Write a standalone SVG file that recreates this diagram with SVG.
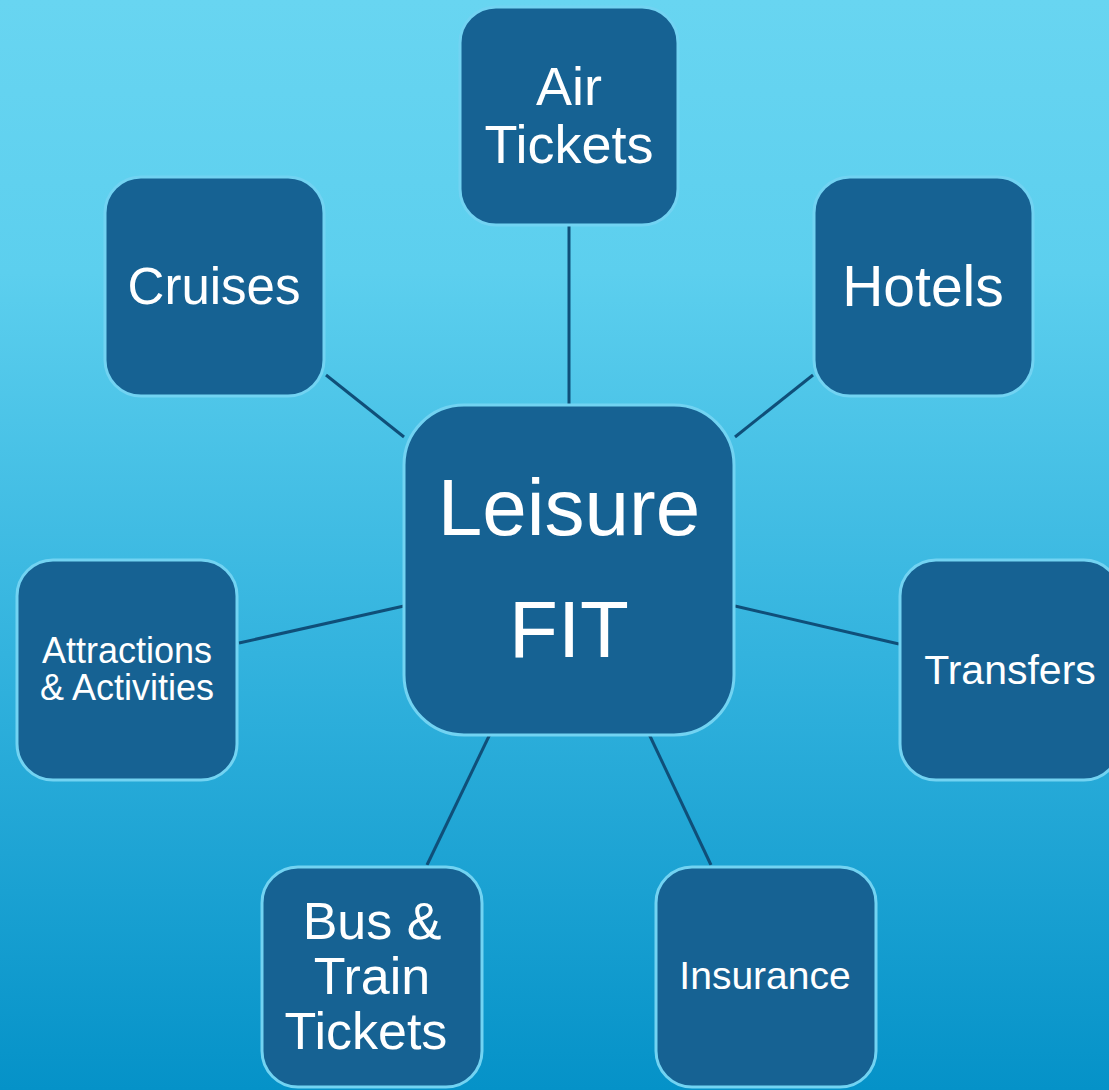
<svg xmlns="http://www.w3.org/2000/svg" width="1109" height="1090" viewBox="0 0 1109 1090">
<defs>
<linearGradient id="bg" x1="0" y1="0" x2="0" y2="1">
<stop offset="0" stop-color="#68d5f1"/>
<stop offset="0.25" stop-color="#5ccfee"/>
<stop offset="0.6" stop-color="#33b3de"/>
<stop offset="1" stop-color="#0592c8"/>
</linearGradient>
<style>
.node{fill:#166293;stroke:#72d3f2;stroke-width:3}
.lbl{fill:#ffffff;font-family:"Liberation Sans",Arial,sans-serif;text-anchor:middle}
.conn line{stroke:#0f4f79;stroke-width:3}
</style>
</defs>
<rect x="0" y="0" width="1109" height="1090" fill="url(#bg)"/>
<g class="conn" id="connectors">
<line x1="569" y1="226" x2="569" y2="405"/>
<line x1="326" y1="375" x2="404" y2="437"/>
<line x1="813" y1="375" x2="735" y2="437"/>
<line x1="239" y1="643" x2="404" y2="606"/>
<line x1="735" y1="606" x2="899" y2="644"/>
<line x1="490" y1="734" x2="427" y2="865"/>
<line x1="649" y1="734" x2="711" y2="865"/>
</g>
<g id="node-center">
<rect class="node" x="404" y="405" width="330" height="330" rx="60"/>
<text class="lbl" x="569" y="535" font-size="80">Leisure</text>
<text class="lbl" x="569" y="657" font-size="80">FIT</text>
</g>
<g id="node-air">
<rect class="node" x="460" y="7" width="218" height="218" rx="36"/>
<text class="lbl" x="569" y="105" font-size="54">Air</text>
<text class="lbl" x="569" y="163" font-size="54">Tickets</text>
</g>
<g id="node-cruises">
<rect class="node" x="105" y="177" width="219" height="219" rx="36"/>
<text class="lbl" x="214" y="304" font-size="51">Cruises</text>
</g>
<g id="node-hotels">
<rect class="node" x="814" y="177" width="219" height="219" rx="36"/>
<text class="lbl" x="923" y="306" font-size="57">Hotels</text>
</g>
<g id="node-attractions">
<rect class="node" x="17" y="560" width="220" height="220" rx="36"/>
<text class="lbl" x="127" y="663" font-size="36">Attractions</text>
<text class="lbl" x="127" y="700" font-size="36">&amp; Activities</text>
</g>
<g id="node-transfers">
<rect class="node" x="900" y="560" width="220" height="220" rx="36"/>
<text class="lbl" x="1010" y="684" font-size="41">Transfers</text>
</g>
<g id="node-bus">
<rect class="node" x="262" y="867" width="220" height="220" rx="36"/>
<text class="lbl" x="372" y="939" font-size="52">Bus &amp;</text>
<text class="lbl" x="372" y="994" font-size="52">Train</text>
<text class="lbl" x="366" y="1049" font-size="52">Tickets</text>
</g>
<g id="node-insurance">
<rect class="node" x="656" y="867" width="220" height="220" rx="36"/>
<text class="lbl" x="765" y="989" font-size="39">Insurance</text>
</g>
</svg>
